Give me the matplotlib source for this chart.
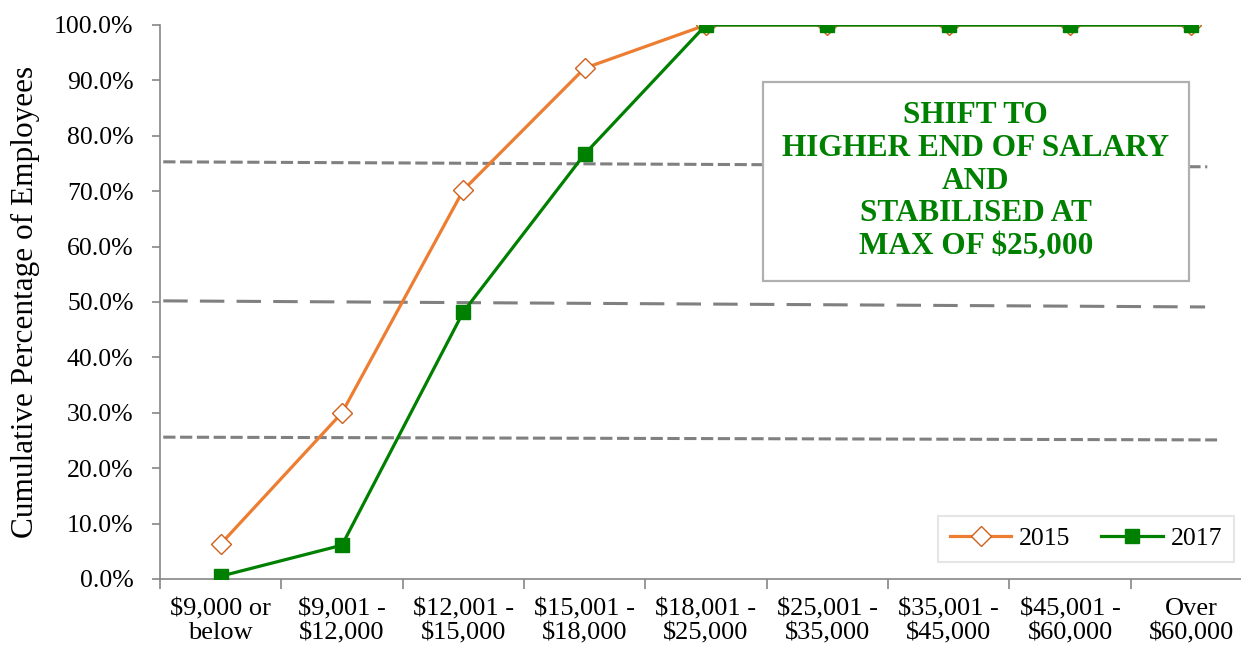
import matplotlib
matplotlib.use('Agg')
import matplotlib.pyplot as plt
import numpy as np

plt.rcParams['font.family'] = ['Liberation Serif', 'DejaVu Serif']

categories = ['$9,000 or\nbelow', '$9,001 -\n$12,000', '$12,001 -\n$15,000', '$15,001 -\n$18,000',
              '$18,001 -\n$25,000', '$25,001 -\n$35,000', '$35,001 -\n$45,000', '$45,001 -\n$60,000',
              'Over\n$60,000']
pct_2015 = [6.3, 30.0, 70.2, 92.2, 100, 100, 100, 100, 100]
pct_2017 = [0.5, 6.1, 48.2, 76.7, 100, 100, 100, 100, 100]

# quartile guide lines (level at left end, level at right end, right end in axes fraction, style)
guides = [((75.3, 74.4), 0.959, (0, (4, 1.5))),
          ((50.2, 49.1), 0.957, (0, (8, 4))),
          ((25.6, 25.1), 0.968, (0, (4, 1.5)))]

note = 'SHIFT TO\nHIGHER END OF SALARY\nAND\nSTABILISED AT\nMAX OF $25,000'

fig = plt.figure(figsize=(12.41, 6.52), dpi=100)
ax = fig.add_axes([0.1289, 0.112, 0.88, 0.8497])

x = np.arange(len(categories))
ax.plot(x, pct_2015, color='#ED7D31', lw=2.3, marker='D', ms=10, mfc='white',
        mec='#D0601A', mew=1.0, label='2015', zorder=3)
ax.plot(x, pct_2017, color='#008000', lw=2.3, marker='s', ms=10, mfc='#008000',
        mec='#008000', label='2017', zorder=4)

ax.set_xlim(-0.5, len(categories) - 0.5)
ax.set_ylim(0, 100)
ax.set_yticks(np.arange(0, 101, 10))
ax.set_yticklabels(['%.1f%%' % v for v in np.arange(0, 101, 10)], fontsize=18.5)
ax.set_xticks(x)
ax.set_xticklabels(categories, fontsize=19, linespacing=1.1)
ax.set_xticks(np.arange(-0.5, len(categories), 1), minor=True)
ax.tick_params(axis='x', which='major', length=0, pad=14)
ax.tick_params(axis='x', which='minor', length=7, color='#868686', width=1.2)
ax.tick_params(axis='y', length=6, color='#868686', width=1.2, pad=13)
ax.set_ylabel('Cumulative Percentage of Employees', fontsize=22.5, labelpad=10)

for s in ['top', 'right']:
    ax.spines[s].set_visible(False)
for s in ['left', 'bottom']:
    ax.spines[s].set_color('#868686')
    ax.spines[s].set_linewidth(1.2)

for (y0, y1), xr, ls in guides:
    trans = ax.get_yaxis_transform()
    ax.plot([0.003, xr], [y0, y1], transform=trans, color='#808080', lw=2.2,
            linestyle=ls, clip_on=False, zorder=2)

ax.text(0.747, 0.718, note, transform=ax.transAxes, ha='center', va='center',
        fontsize=22.5, fontweight='bold', color='#008000', linespacing=1.17, zorder=5,
        bbox=dict(boxstyle='square,pad=0.62', fc='white', ec='#B0B0B0', lw=1.6))

leg = ax.legend(loc='lower right', bbox_to_anchor=(0.995, 0.008), ncol=2, fontsize=18.5,
                frameon=True, fancybox=False, edgecolor='#E0E0E0', handlelength=2.4,
                columnspacing=1.2, borderpad=0.45, handletextpad=0.3)
leg.get_frame().set_linewidth(1.5)

fig.savefig('out.png', dpi=100)
